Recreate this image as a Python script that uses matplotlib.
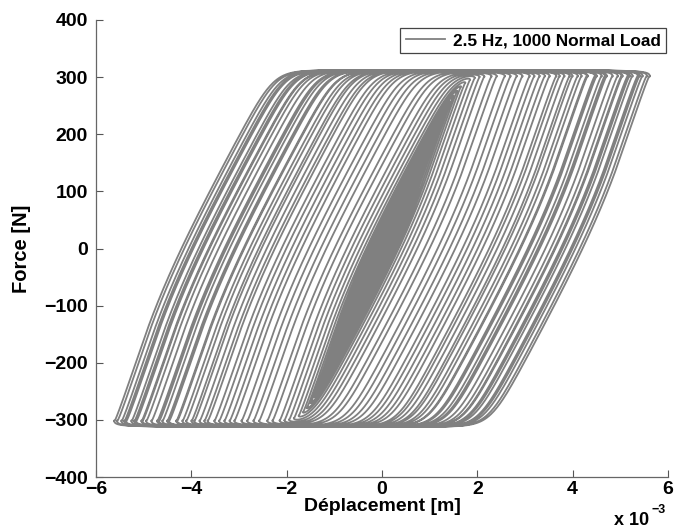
import numpy as np
import matplotlib
matplotlib.use("Agg")
import matplotlib.pyplot as plt
from matplotlib.ticker import FuncFormatter

# ---- data ----
# displacement amplitude of each successive loading cycle [mm]
core_amplitudes_mm = [0.10, 0.18, 0.26, 0.34, 0.42, 0.50, 0.58, 0.66, 0.74, 0.82,
                      0.90, 0.97, 1.04, 1.10, 1.16, 1.22, 1.27, 1.32, 1.37, 1.42]
mid_amplitudes_mm = [1.50, 1.58, 1.66, 1.75, 1.85, 1.95, 2.05, 2.15]
large_amplitudes_mm = [2.30, 2.41, 2.58, 2.70, 2.83, 2.95, 3.10, 3.20, 3.31, 3.42,
                       3.52, 3.66, 3.73, 3.83, 3.94, 4.00, 4.11, 4.19, 4.30, 4.32,
                       4.47, 4.51, 4.61, 4.68, 4.72, 4.84, 4.95, 5.03, 5.05, 5.16,
                       5.20, 5.26, 5.37, 5.41, 5.47, 5.56, 5.62]
# two friction elements in parallel (slip force [N], elastic displacement [mm])
micro_slip_force_N = 55.0
micro_slip_disp_mm = 0.60
macro_slip_force_N = 257.0
macro_slip_disp_mm = 1.68
# friction drop near velocity reversal (fraction, velocity scale [mm/rad])
static_drop = 0.035
drop_velocity_mm = 1.0
x_ticks_mm = [-6, -4, -2, 0, 2, 4, 6]
y_ticks_N = [-400, -300, -200, -100, 0, 100, 200, 300, 400]
legend_label = "2.5 Hz, 1000 Normal Load"

# ---- displacement history (sinusoidal cycles) ----
amps = np.array(core_amplitudes_mm + mid_amplitudes_mm + large_amplitudes_mm) * 1e-3
theta = np.linspace(0, 2 * np.pi, 1500, endpoint=False)
disp = np.concatenate([a * np.sin(theta) for a in amps])
speed = np.concatenate([np.abs(a * np.cos(theta)) for a in amps])
disp = np.append(disp, 0.0)
speed = np.append(speed, amps[-1])


def bouc_wen(x, xy, n):
    z = np.zeros_like(x)
    for i in range(1, len(x)):
        dx = x[i] - x[i - 1]
        zi = z[i - 1]
        f = 1.0 - abs(zi) ** n if dx * zi > 0 else 1.0
        z[i] = min(max(zi + dx / xy * f, -1.0), 1.0)
    return z


z1 = bouc_wen(disp, micro_slip_disp_mm * 1e-3, 1)
z2 = bouc_wen(disp, macro_slip_disp_mm * 1e-3, 8)
drop = 1.0 - static_drop * np.exp(-speed / (drop_velocity_mm * 1e-3))
force = (micro_slip_force_N * z1 + macro_slip_force_N * z2) * drop

# ---- figure ----
plt.rcParams["font.family"] = ["Liberation Sans", "DejaVu Sans"]
plt.rcParams["font.weight"] = "bold"
fig = plt.figure(figsize=(6.74, 5.29), dpi=100)
ax = fig.add_axes([96 / 674, 1 - 477 / 529, (668 - 96) / 674, (477 - 20) / 529])

line_color = "#808080"
ax.plot(disp, force, color=line_color, lw=1.3, label=legend_label)

ax.set_xlim(-6e-3, 6e-3)
ax.set_ylim(-400, 400)
ax.set_xticks(np.array(x_ticks_mm) * 1e-3)
ax.set_yticks(y_ticks_N)
ax.xaxis.set_major_formatter(FuncFormatter(lambda v, p: f"{v * 1e3:.0f}".replace("-", "\u2212")))
ax.yaxis.set_major_formatter(FuncFormatter(lambda v, p: f"{v:.0f}".replace("-", "\u2212")))
ax.tick_params(direction="in", length=5, width=0.8, color="#555555", labelsize=14)
ax.tick_params(axis="y", pad=6)
ax.tick_params(axis="x", pad=3)
for lab in ax.get_xticklabels() + ax.get_yticklabels():
    lab.set_fontweight("bold")
ax.spines["top"].set_visible(False)
ax.spines["right"].set_visible(False)
for s in ("left", "bottom"):
    ax.spines[s].set_color("#666666")
    ax.spines[s].set_linewidth(0.9)

ax.set_xlabel("Déplacement [m]", fontsize=14, fontweight="bold", labelpad=0)
ax.set_ylabel("Force [N]", fontsize=14.5, fontweight="bold", labelpad=9)

leg = ax.legend(loc="upper right", bbox_to_anchor=(0.9965, 0.9825), borderaxespad=0,
                fontsize=12.4, handlelength=2.3, handletextpad=0.45,
                borderpad=0.3, fancybox=False, framealpha=1)
leg.get_frame().set_edgecolor("#444444")
leg.get_frame().set_linewidth(0.9)
for t in leg.get_texts():
    t.set_fontweight("bold")

fig.text(614 / 674, 1 - 525 / 529, "x 10", fontsize=13, fontweight="bold",
         ha="left", va="baseline")
fig.text(652 / 674, 1 - 513 / 529, "\u22123", fontsize=9, fontweight="bold",
         ha="left", va="baseline")

fig.savefig("out.png", dpi=100, facecolor="white")
